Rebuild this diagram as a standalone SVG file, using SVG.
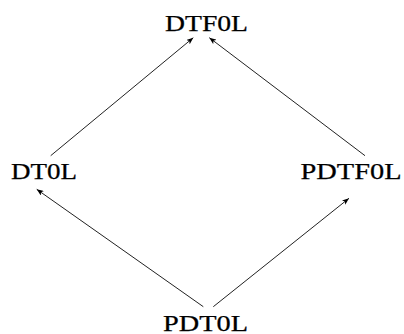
<svg xmlns="http://www.w3.org/2000/svg" width="404" height="334" viewBox="0 0 404 334">
<defs>
<style>
.lbl{font-family:"Liberation Serif","DejaVu Serif",serif;font-size:23px;fill:#000;stroke:#000;stroke-width:0.25;text-anchor:middle}
.edge{stroke:#222;stroke-width:1;fill:none;marker-end:url(#ah)}
</style>
<marker id="ah" viewBox="0 0 10 8" refX="10" refY="4" markerWidth="7" markerHeight="5.6" markerUnits="userSpaceOnUse" orient="auto">
<path d="M0,0 L10,4 L0,8 L2.5,4 Z" fill="#000"/>
</marker>
</defs>
<rect width="404" height="334" fill="#fff"/>
<g id="connectors">
<line class="edge" x1="50.7" y1="155.7" x2="193.3" y2="37.7"/>
<line class="edge" x1="365" y1="155.7" x2="209.3" y2="37.7"/>
<line class="edge" x1="203.3" y1="306.7" x2="36.7" y2="189.3"/>
<line class="edge" x1="213.3" y1="306.7" x2="349" y2="198.3"/>
</g>
<g id="DTF0L"><text class="lbl" x="206.5" y="31" textLength="83" lengthAdjust="spacingAndGlyphs">DTF0L</text></g>
<g id="DT0L"><text class="lbl" x="44" y="179" textLength="66" lengthAdjust="spacingAndGlyphs">DT0L</text></g>
<g id="PDTF0L"><text class="lbl" x="351" y="179" textLength="101" lengthAdjust="spacingAndGlyphs">PDTF0L</text></g>
<g id="PDT0L"><text class="lbl" x="205.5" y="330.5" textLength="85" lengthAdjust="spacingAndGlyphs">PDT0L</text></g>
</svg>
